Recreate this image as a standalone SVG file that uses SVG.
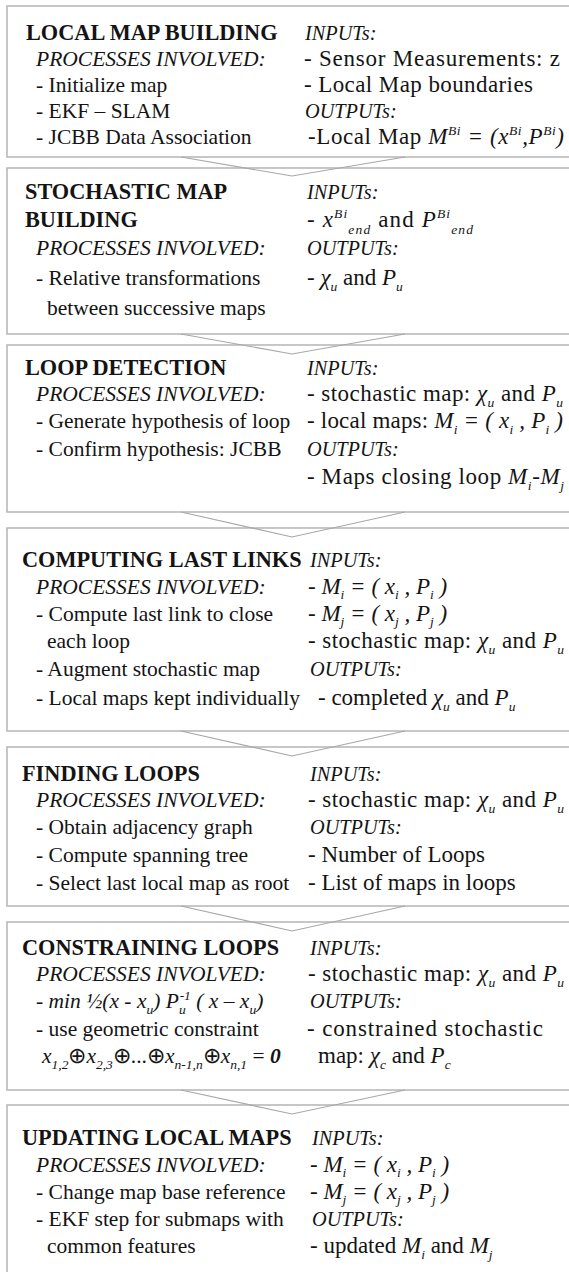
<svg xmlns="http://www.w3.org/2000/svg" width="569" height="1272" viewBox="0 0 569 1272">
<style>
.bg{fill:#fff}
.box{fill:#fff;stroke:#b9b9b9;stroke-width:1.6}
.con{fill:none;stroke:#a8a8a8;stroke-width:1.2}
text{font-family:"Liberation Serif","Times New Roman",serif;font-size:21.5px;fill:#141414}
.h{font-weight:bold;font-size:22.3px}
.i{font-style:italic}
.ih{font-style:italic;font-size:20.3px}
.r{font-size:23px}
.s{font-size:13.5px;font-style:italic}
.b{font-weight:bold}
</style>
<rect class="bg" x="0" y="0" width="569" height="1272"/>

<g id="box1">
<rect class="box" x="7" y="6" width="580" height="151"/>
<text class="h" x="26" y="40">LOCAL MAP BUILDING</text>
<text class="i" x="36" y="66">PROCESSES INVOLVED:</text>
<text x="36" y="92">- Initialize map</text>
<text x="36" y="118">- EKF – SLAM</text>
<text x="36" y="144">- JCBB Data Association</text>
<text class="ih" x="305" y="40">INPUTs:</text>
<text class="r" x="304" y="66" textLength="256">- Sensor Measurements: z</text>
<text class="r" x="304" y="92" textLength="229">- Local Map boundaries</text>
<text class="ih" x="305" y="118">OUTPUTs:</text>
<text class="r" x="308" y="144" textLength="256">-Local Map <tspan class="i">M</tspan><tspan class="s" dy="-9">Bi</tspan><tspan class="i" dy="9"> = (x</tspan><tspan class="s" dy="-9">Bi</tspan><tspan class="i" dy="9">,P</tspan><tspan class="s" dy="-9">Bi</tspan><tspan class="i" dy="9">)</tspan></text>
</g>

<g id="box2">
<rect class="box" x="7" y="168" width="580" height="166"/>
<text class="h" x="25" y="199">STOCHASTIC MAP</text>
<text class="h" x="25" y="227">BUILDING</text>
<text class="i" x="36" y="255">PROCESSES INVOLVED:</text>
<text x="36" y="285">- Relative transformations</text>
<text x="47" y="315">between successive maps</text>
<text class="ih" x="307" y="199">INPUTs:</text>
<text class="r" x="307" y="227" textLength="166">- <tspan class="i">x</tspan><tspan class="s" dy="-9">Bi</tspan><tspan class="s" dy="16">end</tspan><tspan dy="-7"> and </tspan><tspan class="i">P</tspan><tspan class="s" dy="-9">Bi</tspan><tspan class="s" dy="16">end</tspan></text>
<text class="ih" x="307" y="255">OUTPUTs:</text>
<text class="r" x="307" y="285">- <tspan class="i">χ</tspan><tspan class="s" dy="6">u</tspan><tspan dy="-6"> and </tspan><tspan class="i">P</tspan><tspan class="s" dy="6">u</tspan></text>
</g>

<g id="box3">
<rect class="box" x="7" y="345" width="580" height="167"/>
<text class="h" x="25" y="375">LOOP DETECTION</text>
<text class="i" x="36" y="401">PROCESSES INVOLVED:</text>
<text x="36" y="428">- Generate hypothesis of loop</text>
<text x="36" y="456">- Confirm hypothesis: JCBB</text>
<text class="ih" x="307" y="375">INPUTs:</text>
<text class="r" x="307" y="401" textLength="256">- stochastic map: <tspan class="i">χ</tspan><tspan class="s" dy="6">u</tspan><tspan dy="-6"> and </tspan><tspan class="i">P</tspan><tspan class="s" dy="6">u</tspan></text>
<text class="r" x="307" y="428" textLength="256">- local maps: <tspan class="i">M</tspan><tspan class="s" dy="6">i</tspan><tspan class="i" dy="-6"> = ( x</tspan><tspan class="s" dy="6">i</tspan><tspan class="i" dy="-6"> , P</tspan><tspan class="s" dy="6">i</tspan><tspan class="i" dy="-6"> )</tspan></text>
<text class="ih" x="307" y="456">OUTPUTs:</text>
<text class="r" x="307" y="484" textLength="257">- Maps closing loop <tspan class="i">M</tspan><tspan class="s" dy="6">i</tspan><tspan class="i" dy="-6">-M</tspan><tspan class="s" dy="6">j</tspan></text>
</g>

<g id="box4">
<rect class="box" x="7" y="528" width="580" height="203"/>
<text class="h" x="22" y="567">COMPUTING LAST LINKS</text>
<text class="i" x="36" y="594">PROCESSES INVOLVED:</text>
<text x="36" y="621">- Compute last link to close</text>
<text x="47" y="648">each loop</text>
<text x="36" y="676">- Augment stochastic map</text>
<text x="36" y="705">- Local maps kept individually</text>
<text class="ih" x="310" y="567">INPUTs:</text>
<text class="r" x="308" y="594">- <tspan class="i">M</tspan><tspan class="s" dy="5">i</tspan><tspan class="i" dy="-5"> = ( x</tspan><tspan class="s" dy="5">i</tspan><tspan class="i" dy="-5"> , P</tspan><tspan class="s" dy="5">i</tspan><tspan class="i" dy="-5"> )</tspan></text>
<text class="r" x="308" y="621">- <tspan class="i">M</tspan><tspan class="s" dy="5">j</tspan><tspan class="i" dy="-5"> = ( x</tspan><tspan class="s" dy="5">j</tspan><tspan class="i" dy="-5"> , P</tspan><tspan class="s" dy="5">j</tspan><tspan class="i" dy="-5"> )</tspan></text>
<text class="r" x="308" y="648" textLength="256">- stochastic map: <tspan class="i">χ</tspan><tspan class="s" dy="6">u</tspan><tspan dy="-6"> and </tspan><tspan class="i">P</tspan><tspan class="s" dy="6">u</tspan></text>
<text class="ih" x="310" y="676">OUTPUTs:</text>
<text class="r" x="318" y="705">- completed <tspan class="i">χ</tspan><tspan class="s" dy="6">u</tspan><tspan dy="-6"> and </tspan><tspan class="i">P</tspan><tspan class="s" dy="6">u</tspan></text>
</g>

<g id="box5">
<rect class="box" x="7" y="747" width="580" height="159"/>
<text class="h" x="22" y="781">FINDING LOOPS</text>
<text class="i" x="36" y="807">PROCESSES INVOLVED:</text>
<text x="36" y="834">- Obtain adjacency graph</text>
<text x="36" y="862">- Compute spanning tree</text>
<text x="36" y="890">- Select last local map as root</text>
<text class="ih" x="310" y="781">INPUTs:</text>
<text class="r" x="308" y="807" textLength="256">- stochastic map: <tspan class="i">χ</tspan><tspan class="s" dy="6">u</tspan><tspan dy="-6"> and </tspan><tspan class="i">P</tspan><tspan class="s" dy="6">u</tspan></text>
<text class="ih" x="310" y="834">OUTPUTs:</text>
<text class="r" x="308" y="862">- Number of Loops</text>
<text class="r" x="308" y="890">- List of maps in loops</text>
</g>

<g id="box6">
<rect class="box" x="7" y="922" width="580" height="168"/>
<text class="h" x="22" y="955">CONSTRAINING LOOPS</text>
<text class="i" x="36" y="981">PROCESSES INVOLVED:</text>
<text class="i" x="36" y="1008">- min ½(x - x<tspan class="s" dy="6">u</tspan><tspan dy="-6">) P</tspan><tspan class="s" dy="6">u</tspan><tspan class="s" dx="-6" dy="-14">-1</tspan><tspan dy="8"> ( x – x</tspan><tspan class="s" dy="6">u</tspan><tspan dy="-6">)</tspan></text>
<text x="36" y="1036">- use geometric constraint</text>
<text x="42" y="1063"><tspan class="i">x</tspan><tspan class="s" dy="6">1,2</tspan><tspan dy="-6">⊕</tspan><tspan class="i">x</tspan><tspan class="s" dy="6">2,3</tspan><tspan dy="-6">⊕...⊕</tspan><tspan class="i">x</tspan><tspan class="s" dy="6">n-1,n</tspan><tspan dy="-6">⊕</tspan><tspan class="i">x</tspan><tspan class="s" dy="6">n,1</tspan><tspan dy="-6"> = </tspan><tspan class="i b">0</tspan></text>
<text class="ih" x="310" y="955">INPUTs:</text>
<text class="r" x="308" y="981" textLength="256">- stochastic map: <tspan class="i">χ</tspan><tspan class="s" dy="6">u</tspan><tspan dy="-6"> and </tspan><tspan class="i">P</tspan><tspan class="s" dy="6">u</tspan></text>
<text class="ih" x="310" y="1008">OUTPUTs:</text>
<text class="r" x="307" y="1036" textLength="236">- constrained stochastic</text>
<text class="r" x="318" y="1063">map: <tspan class="i">χ</tspan><tspan class="s" dy="6">c</tspan><tspan dy="-6"> and </tspan><tspan class="i">P</tspan><tspan class="s" dy="6">c</tspan></text>
</g>

<g id="box7">
<rect class="box" x="7" y="1105" width="580" height="200"/>
<text class="h" x="22" y="1145">UPDATING LOCAL MAPS</text>
<text class="i" x="36" y="1172">PROCESSES INVOLVED:</text>
<text x="36" y="1199">- Change map base reference</text>
<text x="36" y="1226">- EKF step for submaps  with</text>
<text x="47" y="1253">common features</text>
<text class="ih" x="312" y="1145">INPUTs:</text>
<text class="r" x="310" y="1172">- <tspan class="i">M</tspan><tspan class="s" dy="5">i</tspan><tspan class="i" dy="-5"> = ( x</tspan><tspan class="s" dy="5">i</tspan><tspan class="i" dy="-5"> , P</tspan><tspan class="s" dy="5">i</tspan><tspan class="i" dy="-5"> )</tspan></text>
<text class="r" x="310" y="1199">- <tspan class="i">M</tspan><tspan class="s" dy="5">j</tspan><tspan class="i" dy="-5"> = ( x</tspan><tspan class="s" dy="5">j</tspan><tspan class="i" dy="-5"> , P</tspan><tspan class="s" dy="5">j</tspan><tspan class="i" dy="-5"> )</tspan></text>
<text class="ih" x="312" y="1226">OUTPUTs:</text>
<text class="r" x="310" y="1253">- updated <tspan class="i">M</tspan><tspan class="s" dy="6">i</tspan><tspan dy="-6"> and  </tspan><tspan class="i">M</tspan><tspan class="s" dy="6">j</tspan></text>
</g>

<g id="connectors">
<polyline class="con" points="181,157 292,176 405,157"/>
<polyline class="con" points="181,334 292,354 405,334"/>
<polyline class="con" points="181,512 292,537 405,512"/>
<polyline class="con" points="181,731 292,756 405,731"/>
<polyline class="con" points="181,906 292,931 405,906"/>
<polyline class="con" points="181,1090 292,1114 405,1090"/>
</g>
</svg>
